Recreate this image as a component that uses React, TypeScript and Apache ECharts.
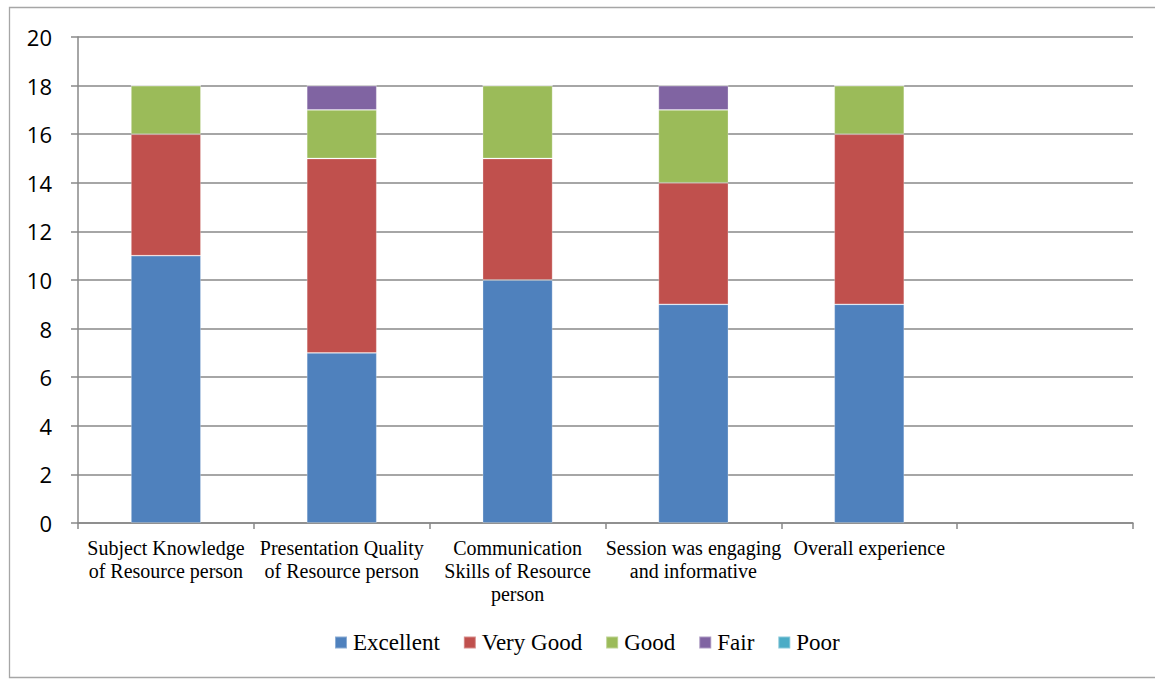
import React, { useEffect, useRef } from "react";
import * as echarts from "echarts";

const categories = [
  "Subject Knowledge\nof Resource person",
  "Presentation Quality\nof Resource person",
  "Communication\nSkills of Resource\nperson",
  "Session was engaging\nand informative",
  "Overall experience",
  "",
];
const excellent = [11, 7, 10, 9, 9, null];
const veryGood = [5, 8, 5, 5, 7, null];
const good = [2, 2, 3, 3, 2, null];
const fair = [0, 1, 0, 1, 0, null];
const poor = [0, 0, 0, 0, 0, null];
const yTicks = { min: 0, max: 20, interval: 2 };

const seriesDefs = [
  { name: "Excellent", data: excellent, color: "#4F81BD" },
  { name: "Very Good", data: veryGood, color: "#C0504D" },
  { name: "Good", data: good, color: "#9BBB59" },
  { name: "Fair", data: fair, color: "#8064A2" },
  { name: "Poor", data: poor, color: "#4BACC6" },
];

const SERIF = "'Liberation Serif', 'Times New Roman', serif";

export default function App() {
  const ref = useRef<HTMLDivElement>(null);
  useEffect(() => {
    document.body.style.margin = "0";
    const chart = echarts.init(ref.current!, null, { renderer: "svg" });
    chart.setOption({
      animation: false,
      backgroundColor: "#ffffff",
      graphic: [
        {
          type: "rect",
          shape: { x: 9.5, y: 7.5, width: 1200, height: 670 },
          style: { fill: "none", stroke: "#a6a6a6", lineWidth: 1.3 },
          silent: true,
          z: -1,
        },
      ],
      grid: { left: 78, right: 22, top: 37, bottom: 156, containLabel: false },
      legend: {
        top: 626,
        left: 329,
        itemWidth: 12,
        itemHeight: 12,
        itemGap: 23,
        icon: "rect",
        textStyle: { fontFamily: SERIF, fontSize: 23, color: "#000", padding: [0, 0, 0, 1] },
        data: seriesDefs.map((s) => s.name),
      },
      xAxis: {
        type: "category",
        data: categories,
        boundaryGap: true,
        axisLine: { lineStyle: { color: "#888", width: 1.5 } },
        axisTick: { show: true, interval: 0, length: 6, lineStyle: { color: "#888", width: 1.5 } },
        axisLabel: {
          interval: 0,
          margin: 13,
          fontFamily: SERIF,
          fontSize: 20,
          lineHeight: 23,
          color: "#000",
        },
      },
      yAxis: {
        type: "value",
        min: yTicks.min,
        max: yTicks.max,
        interval: yTicks.interval,
        axisLine: { show: true, lineStyle: { color: "#888", width: 1.5 } },
        axisTick: { show: true, length: 7, lineStyle: { color: "#888", width: 1.5 } },
        splitLine: { lineStyle: { color: "#888", width: 1.5 } },
        axisLabel: {
          margin: 26,
          fontFamily: "'Open Sans', sans-serif",
          fontSize: 22,
          color: "#000",
        },
      },
      series: seriesDefs.map((s) => ({
        name: s.name,
        type: "bar",
        stack: "total",
        barWidth: 70,
        data: s.data,
        itemStyle: { color: s.color, borderColor: "rgba(255,255,255,0.35)", borderWidth: 0.8 },
      })),
    });
    return () => chart.dispose();
  }, []);
  return <div ref={ref} style={{ width: 1155, height: 679 }} />;
}
